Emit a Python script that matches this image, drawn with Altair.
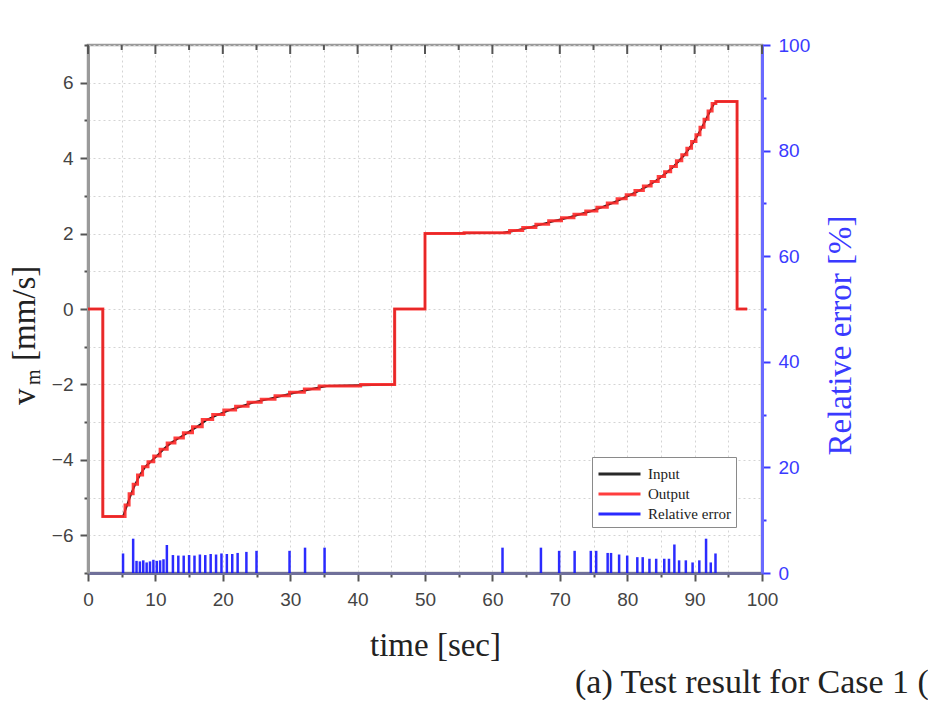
import altair as alt
import pandas as pd

# ---- data ----
# Input / output velocity profile: time [sec], v_m [mm/s]
t_curve = [0.0, 2.2, 2.2, 5.2, 5.8, 6.4, 7.0, 7.7, 8.5, 9.3, 10.2, 11.2, 12.3, 13.5, 14.8,
           16.2, 17.7, 19.3, 21.0, 22.8, 24.7, 26.7, 28.8, 31.0, 33.2, 35.4, 45.5, 45.5,
           50.0, 50.0, 61.6, 63.5, 65.5, 67.4, 69.3, 71.2, 73.0, 74.7, 76.3, 77.8, 79.2,
           80.5, 81.8, 83.0, 84.1, 85.1, 86.0, 86.9, 87.7, 88.5, 89.2, 89.9, 90.5, 91.1,
           91.7, 92.3, 92.9, 93.4, 96.3, 96.3, 97.8]
v_curve = [0.0, 0.0, -5.5, -5.5, -5.2, -4.9, -4.65, -4.4, -4.18, -4.05, -3.9, -3.72, -3.55,
           -3.42, -3.28, -3.12, -2.93, -2.8, -2.68, -2.58, -2.47, -2.39, -2.3, -2.21, -2.12,
           -2.04, -2.0, 0.0, 0.0, 2.0, 2.02, 2.08, 2.16, 2.25, 2.34, 2.42, 2.51, 2.6, 2.7,
           2.81, 2.92, 3.03, 3.14, 3.26, 3.38, 3.51, 3.64, 3.78, 3.93, 4.09, 4.26, 4.44,
           4.62, 4.82, 5.03, 5.25, 5.45, 5.5, 5.5, 0.0, 0.0]

# Relative error spikes: time [sec], error [%]
t_err = [5.2, 6.7, 7.2, 7.7, 8.2, 8.7, 9.2, 9.7, 10.2, 10.7, 11.2, 11.7, 12.6, 13.4, 14.2,
         15.0, 15.8, 16.6, 17.4, 18.2, 19.0, 19.8, 20.6, 21.4, 22.2, 23.5, 25.0, 29.9, 32.2,
         35.1, 61.5, 67.2, 69.9, 72.2, 74.6, 75.4, 77.1, 77.6, 78.8, 80.0, 81.5, 82.3, 83.3,
         84.3, 85.5, 86.2, 87.0, 87.7, 88.7, 89.7, 90.7, 91.7, 92.4, 93.1]
e_err = [3.7, 6.5, 2.3, 2.2, 2.4, 2.0, 2.2, 2.5, 2.3, 2.4, 2.6, 5.3, 3.4, 3.3, 3.3, 3.4, 3.3,
         3.5, 3.4, 3.6, 3.5, 3.7, 3.6, 3.6, 3.8, 4.0, 4.2, 4.2, 4.8, 4.8, 4.8, 4.8, 4.2, 4.2,
         4.2, 4.2, 3.8, 3.8, 3.5, 3.3, 3.0, 3.0, 2.7, 2.7, 2.7, 2.7, 5.4, 2.4, 2.4, 2.0, 2.4,
         6.5, 2.0, 3.7]

series_names = ["Input", "Output", "Relative error"]
series_colors = ["#111111", "#ff2a2a", "#1414ff"]

x_ticks = [0, 5, 10, 15, 20, 25, 30, 35, 40, 45, 50, 55, 60, 65, 70, 75, 80, 85, 90, 95, 100]
x_major = [0, 10, 20, 30, 40, 50, 60, 70, 80, 90, 100]
x_minor = [5, 15, 25, 35, 45, 55, 65, 75, 85, 95]
y_ticks = [-7, -6, -5, -4, -3, -2, -1, 0, 1, 2, 3, 4, 5, 6, 7]
e_ticks = [0, 10, 20, 30, 40, 50, 60, 70, 80, 90, 100]

curve = pd.DataFrame({"t": t_curve, "v": v_curve, "idx": list(range(len(t_curve)))})
err = pd.DataFrame({"t": t_err, "e": e_err})

SERIF = "Liberation Serif"
SANS = "Liberation Sans"

xs = alt.Scale(domain=[0, 100], nice=False, zero=False)
ys = alt.Scale(domain=[-7, 7], nice=False, zero=False)
es = alt.Scale(domain=[0, 100], nice=False, zero=False)

x_axis = alt.Axis(
    values=x_ticks,
    labelExpr="datum.value % 10 === 0 ? datum.label : ''",
    tickSize={"condition": {"test": "datum.value % 10 === 0", "value": 8}, "value": 4},
    tickColor="#555555", tickWidth=2,
    domainColor="#70709a", domainWidth=3,
    labelFont=SANS, labelFontSize=19, labelColor="#444444", labelPadding=9,
    labelFlush=False,
    grid=True, gridColor="#d4d4d4", gridDash=[2, 3], gridWidth=1,
    title="time [sec]", titleFont=SERIF, titleFontSize=33, titleFontWeight="normal",
    titleColor="#222222", titleX=347, titleY=82, titleAlign="center",
    titleBaseline="alphabetic",
)

y_axis = alt.Axis(
    values=y_ticks, orient="left",
    labelExpr="datum.value % 2 === 0 ? datum.label : ''",
    tickSize={"condition": {"test": "datum.value % 2 === 0", "value": 8}, "value": 4},
    tickColor="#555555", tickWidth=2,
    domainColor="#9a9a9a", domainWidth=3,
    labelFont=SANS, labelFontSize=19, labelColor="#444444", labelPadding=7,
    labelFlush=False,
    grid=True, gridColor="#d4d4d4", gridDash=[2, 3], gridWidth=1,
    title=None,
)

e_axis = alt.Axis(
    values=e_ticks, orient="right",
    labelExpr="datum.value % 20 === 0 ? datum.label : ''",
    tickSize={"condition": {"test": "datum.value % 20 === 0", "value": 8}, "value": 4},
    tickColor="#3a3aff", tickWidth=2,
    domainColor="#6a6aff", domainWidth=3,
    labelFont=SANS, labelFontSize=19, labelColor="#3a3aff", labelPadding=8,
    labelFlush=False, grid=False,
    title="Relative error [%]", titleFont=SERIF, titleFontSize=33,
    titleFontWeight="normal", titleColor="#3a3aff", titleAngle=270,
    titleX=88, titleY=290, titleAlign="center", titleBaseline="alphabetic",
)

legend = alt.Legend(
    title=None, orient="none", legendX=504, legendY=412, direction="vertical",
    padding=5, strokeColor="#8a8a8a", fillColor="white", cornerRadius=0,
    symbolType="M-1,0H3", symbolSize=441, symbolStrokeWidth=3,
    labelOffset=27, labelFont=SERIF, labelFontSize=15, labelColor="#222222",
    rowPadding=0,
)
color_scale = alt.Scale(domain=series_names, range=series_colors)

X = alt.X("t:Q", scale=xs, axis=x_axis)

inp = alt.Chart(curve).transform_calculate(series="'Input'").mark_line(
    strokeWidth=2
).encode(
    x=X,
    y=alt.Y("v:Q", scale=ys, axis=y_axis),
    order="idx:Q",
    color=alt.Color("series:N", scale=color_scale, legend=legend),
)

out = alt.Chart(curve).transform_calculate(series="'Output'").mark_line(
    strokeWidth=3, interpolate="step", opacity=0.9
).encode(
    x=X,
    y=alt.Y("v:Q", scale=ys, axis=None),
    order="idx:Q",
    color=alt.Color("series:N", scale=color_scale, legend=legend),
)

errl = alt.Chart(err).transform_calculate(series="'Relative error'").mark_rule(
    strokeWidth=2.5, opacity=0.9
).encode(
    x=X,
    y=alt.Y("e:Q", scale=es, axis=e_axis),
    y2=alt.datum(0),
    color=alt.Color("series:N", scale=color_scale, legend=legend),
)

top_major = alt.Chart(pd.DataFrame({"t": x_major})).mark_rule(
    color="#555555", strokeWidth=2
).encode(x=X, y=alt.value(0), y2=alt.value(9))
top_minor = alt.Chart(pd.DataFrame({"t": x_minor})).mark_rule(
    color="#555555", strokeWidth=2
).encode(x=X, y=alt.value(0), y2=alt.value(5))

ylab_v = alt.Chart().mark_text(
    text="v", font=SERIF, fontSize=33, angle=270, align="left",
    baseline="alphabetic", color="#222222"
).encode(x=alt.value(-53), y=alt.value(360))
ylab_m = alt.Chart().mark_text(
    text="m", font=SERIF, fontSize=20, angle=270, align="left",
    baseline="alphabetic", color="#222222"
).encode(x=alt.value(-48), y=alt.value(340))
ylab_u = alt.Chart().mark_text(
    text="[mm/s]", font=SERIF, fontSize=33, angle=270, align="left",
    baseline="alphabetic", color="#222222"
).encode(x=alt.value(-53), y=alt.value(316))

caption = alt.Chart().mark_text(
    text="(a) Test result for Case 1 (c)", font=SERIF, fontSize=34,
    align="left", baseline="alphabetic", color="#222222"
).encode(x=alt.value(487), y=alt.value(648))

chart = alt.layer(
    inp, out, errl, top_major, top_minor, ylab_v, ylab_m, ylab_u, caption
).resolve_scale(y="independent").properties(
    width=674, height=528,
    autosize=alt.AutoSizeParams(type="none"),
    padding={"left": 80, "top": 37, "right": 166, "bottom": 127},
    background="white",
).configure_view(stroke="#9a9a9a", strokeWidth=2.5)

chart.save("out.html", embed_options={"renderer": "svg", "actions": False})
